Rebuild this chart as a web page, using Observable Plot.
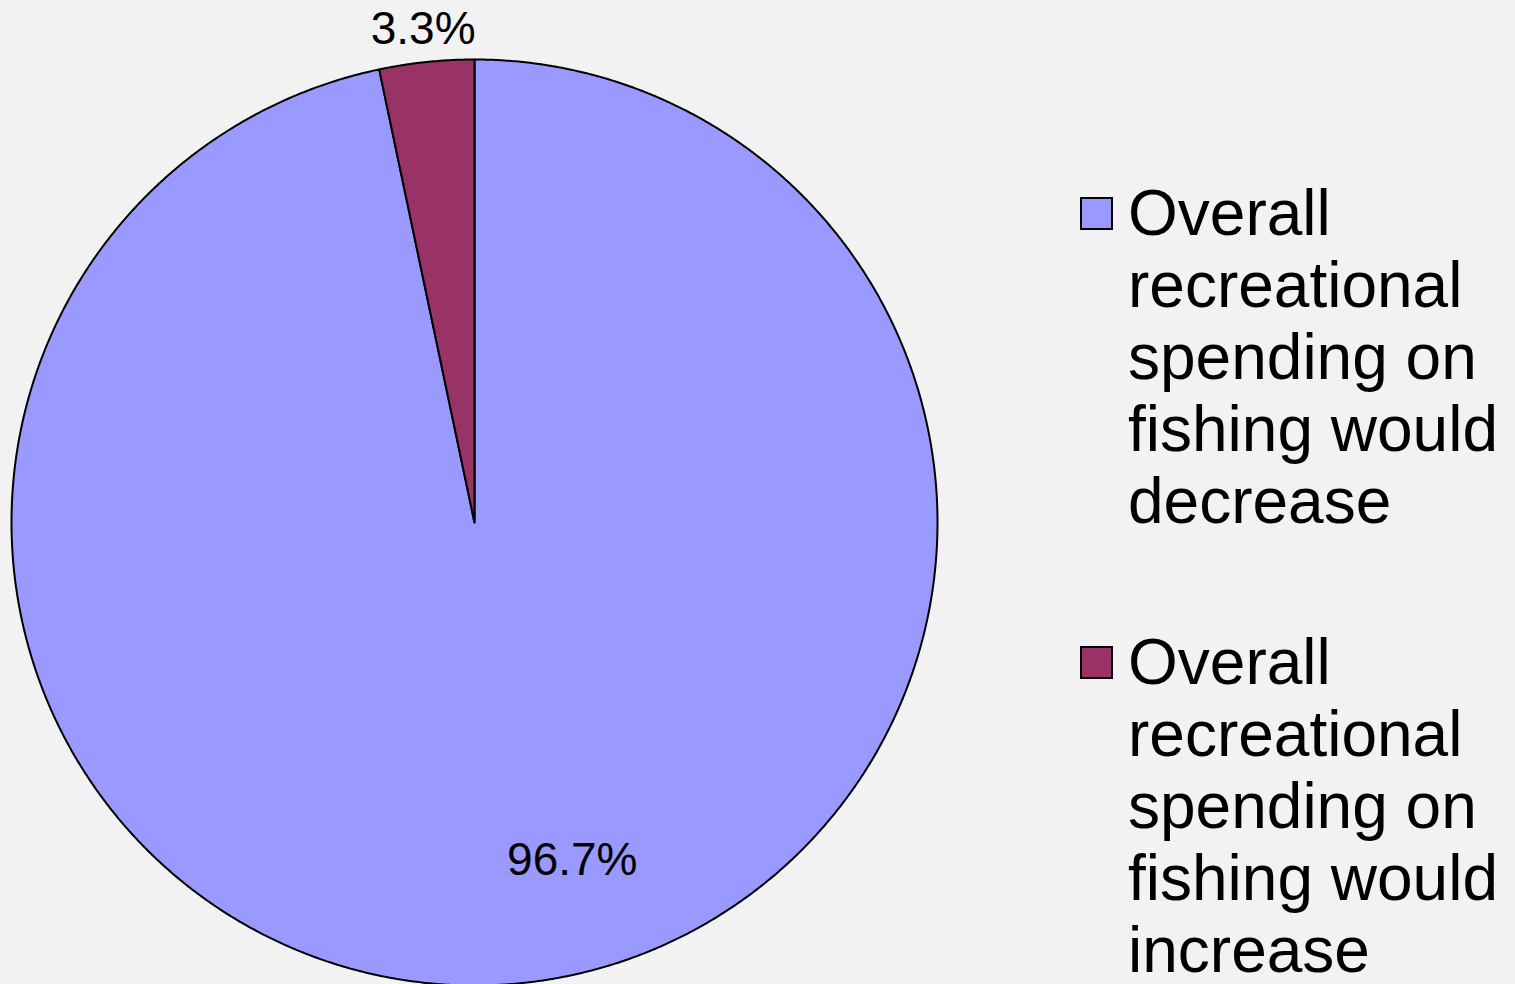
<!DOCTYPE html>
<html>
<head>
<meta charset="utf-8">
<script src="https://cdn.jsdelivr.net/npm/d3@7"></script>
<script src="https://cdn.jsdelivr.net/npm/@observablehq/plot@0.6"></script>
<style>
  html, body { margin: 0; padding: 0; background: #f2f2f2; }
  #wrap { position: relative; width: 1515px; height: 984px; overflow: hidden; background: #f2f2f2; font-family: "Liberation Sans", Arial, sans-serif; }
  #chart { position: absolute; left: 0; top: 0; }
  .legend-item { position: absolute; left: 1080px; }
  .swatch { position: absolute; left: 0; width: 29px; height: 29px; border: 2px solid #000; box-sizing: content-box; }
  .label { position: absolute; left: 48px; width: 430px; font-size: 64px; line-height: 72px; color: #000; white-space: normal; }
</style>
</head>
<body>
<div id="wrap">
  <div id="chart"></div>
  <div id="legend"></div>
</div>
<script>
// ---- data ----
const categories = [
  "Overall recreational spending on fishing would decrease",
  "Overall recreational spending on fishing would increase"
];
const values = [96.7, 3.3];
const labels = ["96.7%", "3.3%"];
const colors = ["#9999ff", "#993366"];

// ---- build slice outlines from the values (d3.pie) ----
const pie = d3.pie().sort(null).value(d => d.value);
const table = categories.map((name, i) => ({name, value: values[i], label: labels[i]}));
const arcs = pie(table);

const outline = [];
arcs.forEach(a => {
  outline.push({name: a.data.name, x: 0, y: 0});
  const n = Math.max(4, Math.ceil((a.endAngle - a.startAngle) / 0.005));
  for (let k = 0; k <= n; k++) {
    const t = a.startAngle + (a.endAngle - a.startAngle) * k / n;
    outline.push({name: a.data.name, x: Math.sin(t), y: Math.cos(t)});
  }
  outline.push({name: a.data.name, x: 0, y: 0});
});

// label anchors: large slice inside, small slice just outside the rim
const labelPts = arcs.map(a => {
  const frac = (a.endAngle - a.startAngle) / (2 * Math.PI);
  const mid = (a.startAngle + a.endAngle) / 2;
  const inside = frac > 0.5;
  const ang = inside ? mid - 0.178 : mid;
  const r = inside ? 0.76 : 1.072;
  return {label: a.data.label, x: r * Math.sin(ang), y: r * Math.cos(ang)};
});

const chart = Plot.plot({
  width: 1515,
  height: 984,
  margin: 0,
  style: {background: "#f2f2f2", fontFamily: "'Liberation Sans', Arial, sans-serif"},
  x: {domain: [-1, 1], range: [11, 937], axis: null},
  y: {domain: [-1, 1], range: [985, 59], axis: null},
  color: {domain: categories, range: colors},
  marks: [
    Plot.line(outline, {x: "x", y: "y", z: "name", fill: "name", stroke: "#000", strokeWidth: 2, strokeLinejoin: "round", curve: "linear"}),
    Plot.text(labelPts, {x: "x", y: "y", text: "label", fontSize: 46, fill: "#000", textAnchor: "middle", lineAnchor: "middle"})
  ]
});
document.getElementById("chart").appendChild(chart);

// ---- legend (HTML) ----
const legend = document.getElementById("legend");
const tops = [177, 626];
categories.forEach((name, i) => {
  const item = document.createElement("div");
  item.className = "legend-item";
  item.style.top = tops[i] + "px";
  const sw = document.createElement("div");
  sw.className = "swatch";
  sw.style.background = colors[i];
  sw.style.top = "20px";
  const tx = document.createElement("div");
  tx.className = "label";
  tx.style.top = "0px";
  tx.innerHTML = name.replace("Overall ", "Overall<br>").replace("recreational ", "recreational<br>").replace("on fishing", "on<br>fishing").replace("would ", "would<br>");
  item.appendChild(sw);
  item.appendChild(tx);
  legend.appendChild(item);
});
</script>
</body>
</html>
